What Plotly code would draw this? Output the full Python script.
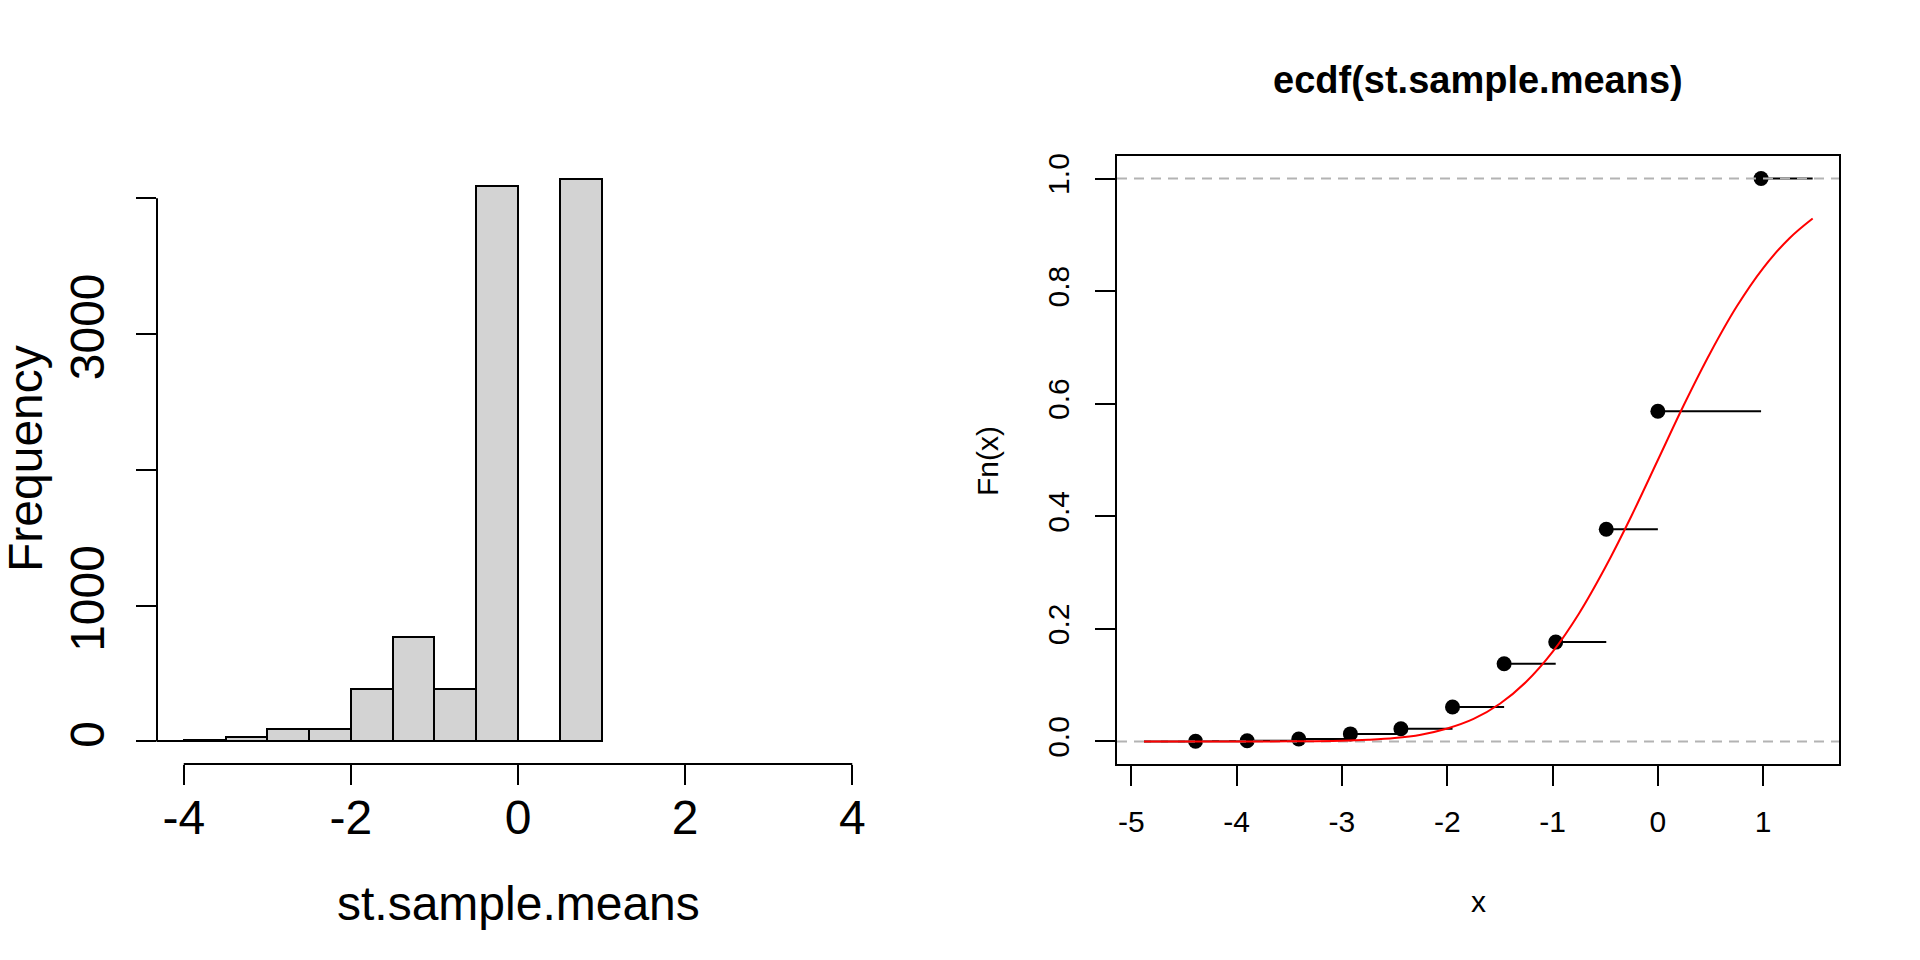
import plotly.graph_objects as go

# ---------------- data ----------------
hist_breaks = [-4.5, -4.0, -3.5, -3.0, -2.5, -2.0, -1.5, -1.0, -0.5, 0.0, 0.5, 1.0]
hist_counts = [3, 10, 32, 90, 90, 388, 767, 385, 4090, 0, 4145]
hist_xticks = [-4, -2, 0, 2, 4]
hist_yticks = [0, 1000, 2000, 3000, 4000]
hist_ytick_labels = ["0", "1000", "", "3000", ""]

ecdf_x = [-4.39, -3.90, -3.41, -2.92, -2.44, -1.95, -1.46, -0.97, -0.49, 0.0, 0.98]
ecdf_F = [0.0003, 0.0013, 0.0045, 0.0135, 0.0225, 0.0613, 0.138, 0.1765, 0.377, 0.5865, 1.0]
ecdf_extent = [-4.88, 1.47]

curve_x = [-4.88, -4.5, -4.0, -3.5, -3.0, -2.75, -2.5, -2.25, -2.0, -1.75, -1.5, -1.25,
           -1.0, -0.75, -0.5, -0.25, 0.0, 0.25, 0.5, 0.75, 1.0, 1.25, 1.47]
curve_y = [0.0, 0.0, 0.0, 0.0002, 0.0013, 0.003, 0.006, 0.012, 0.023, 0.040, 0.067, 0.106,
           0.159, 0.227, 0.309, 0.401, 0.500, 0.599, 0.691, 0.773, 0.841, 0.894, 0.929]

ecdf_xticks = [-5, -4, -3, -2, -1, 0, 1]
ecdf_yticks = [0.0, 0.2, 0.4, 0.6, 0.8, 1.0]
ecdf_ytick_labels = ["0.0", "0.2", "0.4", "0.6", "0.8", "1.0"]
ref_lines = [0.0, 1.0]

title_text = "ecdf(st.sample.means)"

# ---------------- layout constants ----------------
W, H = 1920, 960
FONT = "Liberation Sans, Arial, Helvetica, sans-serif"
BIG = 48
SMALL = 30
LW = 2

hist_xrange = [-4.32, 4.32]
hmax = max(hist_counts)
hist_yrange = [-0.04 * hmax, 1.04 * hmax]
ecdf_xrange = [-5.136, 1.72]
ecdf_yrange = [-0.04, 1.04]

ydom = [1 - 764 / H, 1 - 156 / H]
xdom1 = [157 / W, 879 / W]
xdom2 = [1117 / W, 1839 / W]

fig = go.Figure()

# ---------------- histogram ----------------
centers = [(a + b) / 2 for a, b in zip(hist_breaks[:-1], hist_breaks[1:])]
widths = [b - a for a, b in zip(hist_breaks[:-1], hist_breaks[1:])]
fig.add_trace(go.Bar(
    x=centers, y=hist_counts, width=widths,
    marker=dict(color="#D3D3D3", line=dict(color="black", width=LW)),
    xaxis="x", yaxis="y", showlegend=False, hoverinfo="x+y"))

# ---------------- ecdf ----------------
seg_x, seg_y = [], []
seg_x += [ecdf_extent[0], ecdf_x[0], None]
seg_y += [0, 0, None]
for i in range(len(ecdf_x)):
    nxt = ecdf_x[i + 1] if i + 1 < len(ecdf_x) else ecdf_extent[1]
    seg_x += [ecdf_x[i], nxt, None]
    seg_y += [ecdf_F[i], ecdf_F[i], None]
fig.add_trace(go.Scatter(x=seg_x, y=seg_y, mode="lines",
                         line=dict(color="black", width=LW),
                         xaxis="x2", yaxis="y2", showlegend=False, hoverinfo="skip"))
fig.add_trace(go.Scatter(x=ecdf_x, y=ecdf_F, mode="markers",
                         marker=dict(color="black", size=15, line=dict(width=0)),
                         xaxis="x2", yaxis="y2", showlegend=False))
for h in ref_lines:
    fig.add_trace(go.Scatter(x=ecdf_xrange, y=[h, h], mode="lines",
                             line=dict(color="#B3B3B3", width=LW, dash="10px,7px"),
                             xaxis="x2", yaxis="y2", showlegend=False, hoverinfo="skip"))
fig.add_trace(go.Scatter(x=curve_x, y=curve_y, mode="lines",
                         line=dict(color="red", width=LW, shape="spline", smoothing=1.0),
                         xaxis="x2", yaxis="y2", showlegend=False))

axcommon = dict(showgrid=False, zeroline=False, ticks="outside", ticklen=20,
                tickwidth=LW, tickcolor="black", automargin=False, fixedrange=True)

fig.update_layout(
    width=W, height=H, autosize=False, template="none",
    margin=dict(l=0, r=0, t=0, b=0),
    paper_bgcolor="white", plot_bgcolor="white",
    font=dict(family=FONT, color="black"),
    bargap=0,
    xaxis=dict(domain=xdom1, range=hist_xrange, anchor="y", showline=False,
               tickmode="array", tickvals=hist_xticks,
               ticktext=[str(v) if v >= 0 else "-" + str(-v) for v in hist_xticks],
               tickfont=dict(size=BIG, family=FONT), ticklabelstandoff=-9, **axcommon),
    yaxis=dict(domain=ydom, range=hist_yrange, anchor="x", showline=False,
               tickmode="array", tickvals=hist_yticks, ticktext=hist_ytick_labels,
               tickangle=-90, tickfont=dict(size=BIG, family=FONT), ticklabelstandoff=13,
               **axcommon),
    xaxis2=dict(domain=xdom2, range=ecdf_xrange, anchor="y2", showline=True, mirror=True,
                linecolor="black", linewidth=LW,
                tickmode="array", tickvals=ecdf_xticks,
                ticktext=[str(v) if v >= 0 else "-" + str(-v) for v in ecdf_xticks],
                tickfont=dict(size=SMALL, family=FONT), ticklabelstandoff=10, **axcommon),
    yaxis2=dict(domain=ydom, range=ecdf_yrange, anchor="x2", showline=True, mirror=True,
                linecolor="black", linewidth=LW,
                tickmode="array", tickvals=ecdf_yticks, ticktext=ecdf_ytick_labels,
                tickangle=-90, tickfont=dict(size=SMALL, family=FONT), ticklabelstandoff=14,
                **axcommon),
    shapes=[
        dict(type="line", xref="x", yref="y domain", x0=hist_xticks[0], x1=hist_xticks[-1],
             y0=0, y1=0, line=dict(color="black", width=LW)),
        dict(type="line", xref="x domain", yref="y", x0=0, x1=0,
             y0=hist_yticks[0], y1=hist_yticks[-1], line=dict(color="black", width=LW)),
    ],
    annotations=[
        dict(text="st.sample.means", xref="paper", yref="paper", x=518 / W, y=1 - 903 / H,
             showarrow=False, font=dict(size=BIG, family=FONT), xanchor="center", yanchor="middle"),
        dict(text="Frequency", xref="paper", yref="paper", x=25 / W, y=1 - 459 / H,
             showarrow=False, font=dict(size=BIG, family=FONT), textangle=-90,
             xanchor="center", yanchor="middle"),
        dict(text="<b>" + title_text + "</b>", xref="paper", yref="paper", x=1478 / W, y=1 - 80 / H,
             showarrow=False, font=dict(size=38, family=FONT), xanchor="center", yanchor="middle"),
        dict(text="x", xref="paper", yref="paper", x=1478 / W, y=1 - 901 / H,
             showarrow=False, font=dict(size=SMALL, family=FONT), xanchor="center", yanchor="middle"),
        dict(text="Fn(x)", xref="paper", yref="paper", x=987 / W, y=1 - 461 / H,
             showarrow=False, font=dict(size=SMALL, family=FONT), textangle=-90,
             xanchor="center", yanchor="middle"),
    ],
)

fig.write_html("out.html", config={"displayModeBar": False},
               post_script="document.body.style.margin='0';document.body.style.padding='0';"
                           "document.body.style.overflow='hidden';")
